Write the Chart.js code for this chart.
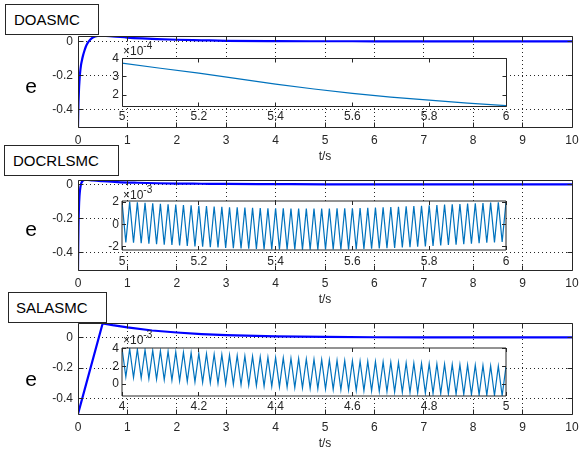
<!DOCTYPE html>
<html><head><meta charset="utf-8">
<script src="https://cdn.jsdelivr.net/npm/chart.js@4.4.0/dist/chart.umd.min.js"></script>
<style>
html,body{margin:0;padding:0;background:#fff;}
body{width:581px;height:459px;position:relative;overflow:hidden;font-family:"Liberation Sans",Arial,Helvetica,sans-serif;color:#262626;}
canvas{position:absolute;}
.tbox{position:absolute;border:1px solid #262626;background:#fff;font-size:15px;line-height:29px;box-sizing:border-box;height:31px;color:#000;z-index:5;}
.ylab{position:absolute;font-size:21px;line-height:21px;width:30px;text-align:center;left:16px;color:#000;z-index:5;}
.expo{position:absolute;font-size:12px;line-height:12px;left:123px;z-index:6;white-space:nowrap;}
.expo span{font-size:10px;position:relative;top:-6px;}
</style></head><body>
<canvas id="m1" width="581" height="137" style="left:0;top:28px"></canvas>
<canvas id="m2" width="581" height="136" style="left:0;top:172px"></canvas>
<canvas id="m3" width="581" height="137" style="left:0;top:315px"></canvas>
<canvas id="i1" width="420" height="85" style="left:100px;top:40px"></canvas>
<canvas id="i2" width="420" height="86" style="left:100px;top:183px"></canvas>
<canvas id="i3" width="420" height="85" style="left:100px;top:330px"></canvas>
<div class="tbox" style="left:5px;top:4px;width:94px;padding-left:8px">DOASMC</div>
<div class="tbox" style="left:4px;top:145px;width:115px;padding-left:8px">DOCRLSMC</div>
<div class="tbox" style="left:8px;top:292px;width:99px;padding-left:7px">SALASMC</div>
<div class="ylab" style="top:75px">e</div>
<div class="ylab" style="top:218px">e</div>
<div class="ylab" style="top:368px">e</div>
<div class="expo" style="top:45px">×10<span>-4</span></div>
<div class="expo" style="top:189px">×10<span>-3</span></div>
<div class="expo" style="top:334px">×10<span>-3</span></div>
<script>
// ---------- main axes ----------
const mainXTicks = [0,1,2,3,4,5,6,7,8,9,10];
const mainXTickLabels = ['0','1','2','3','4','5','6','7','8','9','10'];
const mainYTicks = [-0.4,-0.2,0];
const mainYTickLabels = ['-0.4','-0.2','0'];

// DOASMC error
const doasmcT = [0,0.005,0.01,0.02,0.03,0.04,0.06,0.08,0.1,0.13,0.16,0.2,0.25,0.3,0.4,0.5,0.7,1.0,1.3,1.6,2.0,2.5,3.0,4.0,5.0,6.0,8.0,10];
const doasmcE = [-0.5,-0.42,-0.36,-0.28,-0.23,-0.19,-0.14,-0.11,-0.085,-0.055,-0.03,-0.008,0.01,0.022,0.031,0.032,0.029,0.022,0.017,0.013,0.009,0.006,0.003,0.001,0.0004,0.0002,0.0001,0];

// DOCRLSMC error
const docrlT = [0,0.005,0.01,0.02,0.03,0.04,0.06,0.08,0.1,0.13,0.16,0.2,0.3,0.5,0.8,1.2,1.6,2.0,2.5,3.0,4.0,5.0,6.0,8.0,10];
const docrlE = [-0.5,-0.36,-0.25,-0.13,-0.07,-0.035,0.0,0.014,0.021,0.025,0.026,0.025,0.022,0.018,0.013,0.009,0.006,0.004,0.003,0.002,0.001,0,0,0,0];

// SALASMC error
const salaT = [0,0.5,0.7,1.0,1.5,2.0,2.5,3.0,4.0,5.0,6.0,7.0,8.0,10];
const salaE = [-0.5,0.092,0.08,0.065,0.045,0.032,0.022,0.015,0.007,0.003,0.001,0,0,0];

// ---------- insets ----------
// inset 1 (x 1e-4)
const inset1T = [5.0,5.1,5.2,5.3,5.4,5.5,5.6,5.7,5.8,5.9,6.0];
const inset1E = [3.75,3.47,3.20,2.90,2.60,2.33,2.09,1.89,1.72,1.56,1.42];
const inset1XTicks = [5,5.2,5.4,5.6,5.8,6];
const inset1XLabels = ['5','5.2','5.4','5.6','5.8','6'];
const inset1YTicks = [2,3,4];
const inset1YLabels = ['2','3','4'];

// inset 2 (x 1e-3), samples every 0.01 s alternating peak / trough
const inset2Start = 5.0, inset2Step = 0.01;
const inset2Peaks = [2.05,2.02,1.98,1.94,1.90,1.85,1.81,1.77,1.74,1.70,1.67,1.64,1.60,1.57,1.54,1.52,1.50,1.48,1.46,1.45,1.44,1.43,1.42,1.42,1.41,1.41,1.41,1.42,1.43,1.44,1.45,1.47,1.48,1.50,1.53,1.55,1.58,1.61,1.64,1.67,1.71,1.74,1.77,1.80,1.83,1.86,1.89,1.92,1.95,1.98,2.01];
const inset2Troughs = [-1.64,-1.68,-1.72,-1.76,-1.80,-1.84,-1.88,-1.92,-1.96,-2.00,-2.04,-2.08,-2.11,-2.14,-2.17,-2.20,-2.22,-2.24,-2.26,-2.27,-2.28,-2.29,-2.29,-2.30,-2.30,-2.30,-2.29,-2.29,-2.28,-2.27,-2.26,-2.24,-2.22,-2.20,-2.17,-2.14,-2.11,-2.08,-2.04,-2.00,-1.96,-1.92,-1.88,-1.84,-1.80,-1.76,-1.72,-1.68,-1.64,-1.60];
const inset2XTicks = [5,5.2,5.4,5.6,5.8,6];
const inset2XLabels = ['5','5.2','5.4','5.6','5.8','6'];
const inset2YTicks = [-2,0,2];
const inset2YLabels = ['-2','0','2'];

// inset 3 (x 1e-3)
const inset3Start = 4.0, inset3Step = 0.01;
const inset3Peaks = [4.05,3.99,3.93,3.87,3.81,3.75,3.70,3.64,3.59,3.53,3.48,3.43,3.38,3.33,3.28,3.23,3.18,3.13,3.09,3.04,3.00,2.96,2.92,2.88,2.84,2.80,2.76,2.73,2.69,2.66,2.62,2.59,2.56,2.53,2.50,2.47,2.44,2.41,2.38,2.35,2.32,2.29,2.26,2.23,2.20,2.17,2.14,2.11,2.07,2.04,2.01];
const inset3Troughs = [0.82,0.75,0.68,0.62,0.55,0.49,0.43,0.37,0.31,0.25,0.19,0.14,0.08,0.03,-0.02,-0.07,-0.12,-0.17,-0.22,-0.26,-0.31,-0.35,-0.39,-0.43,-0.47,-0.51,-0.55,-0.59,-0.63,-0.66,-0.70,-0.74,-0.77,-0.81,-0.84,-0.88,-0.91,-0.94,-0.97,-1.01,-1.04,-1.07,-1.10,-1.13,-1.16,-1.19,-1.22,-1.25,-1.28,-1.31];
const inset3XTicks = [4,4.2,4.4,4.6,4.8,5];
const inset3XLabels = ['4','4.2','4.4','4.6','4.8','5'];
const inset3YTicks = [0,2,4];
const inset3YLabels = ['0','2','4'];

// ---------- helpers ----------
const FONT = '"Liberation Sans", Arial, Helvetica, sans-serif';
const TXT = '#262626';

function xy(ts, vs){ return ts.map((t,i)=>({x:t,y:vs[i]})); }
function zigzag(start, step, peaks, troughs){
  const pts = [];
  const n = peaks.length + troughs.length;
  for (let i=0;i<n;i++){
    const t = +(start + i*step).toFixed(3);
    pts.push({x:t, y: i%2===0 ? peaks[i/2] : troughs[(i-1)/2]});
  }
  return pts;
}
function fixTicks(vals){ return s => { s.ticks = vals.map(v=>({value:v})); }; }
function fitX(h){ return s => { s.height=h; s.paddingLeft=0; s.paddingRight=0; s.paddingTop=0; s.paddingBottom=0; }; }
function fitY(w){ return s => { s.width=w; s.paddingLeft=0; s.paddingRight=0; s.paddingTop=0; s.paddingBottom=0; }; }

const matlabAxes = {
  id:'matlabAxes',
  beforeDraw(chart, args, o){
    if(!o.fill) return;
    const a=chart.chartArea, c=chart.ctx;
    c.save(); c.fillStyle=o.fill; c.fillRect(a.left,a.top,a.right-a.left,a.bottom-a.top); c.restore();
  },
  beforeDatasetsDraw(chart, args, o){
    if(!o.grid) return;
    const c=chart.ctx, a=chart.chartArea, x=chart.scales.x, y=chart.scales.y;
    c.save(); c.strokeStyle='#262626'; c.lineWidth=1; c.setLineDash([1,3]);
    c.beginPath();
    x.ticks.forEach(t=>{const p=Math.floor(x.getPixelForValue(t.value))+0.5; if(p<a.left+2||p>a.right-2) return; c.moveTo(p,a.top); c.lineTo(p,a.bottom);});
    y.ticks.forEach(t=>{const p=Math.floor(y.getPixelForValue(t.value))+0.5; if(p<a.top+2||p>a.bottom-2) return; c.moveTo(a.left,p); c.lineTo(a.right,p);});
    c.stroke(); c.restore();
  },
  afterDatasetsDraw(chart, args, o){
    const c=chart.ctx, a=chart.chartArea, x=chart.scales.x, y=chart.scales.y;
    const off = o.half ? 0.5 : 0;
    const L = Math.floor(a.left)+off, R = Math.floor(a.right)+off, T = Math.floor(a.top)+off, B = Math.floor(a.bottom)+off;
    c.save(); c.strokeStyle=o.box; c.lineWidth=1; c.setLineDash([]);
    c.beginPath();
    c.rect(L, T, R-L, B-T);
    const k = o.tickLen;
    x.ticks.forEach(t=>{const p=Math.floor(x.getPixelForValue(t.value))+0.5; c.moveTo(p,B); c.lineTo(p,B-k); c.moveTo(p,T); c.lineTo(p,T+k);});
    y.ticks.forEach(t=>{const p=Math.floor(y.getPixelForValue(t.value))+0.5; c.moveTo(L,p); c.lineTo(L+k,p); c.moveTo(R,p); c.lineTo(R-k,p);});
    c.stroke(); c.restore();
  }
};

function mainChart(id, ts, es, ymin, ymax, smooth){
  return new Chart(document.getElementById(id), {
    type:'line',
    data:{datasets:[{data:xy(ts,es), borderColor:'#0000FF', borderWidth:2.2, pointRadius:0, fill:false, tension:0,
      cubicInterpolationMode: smooth ? 'monotone' : 'default'}]},
    options:{
      responsive:false, animation:false, devicePixelRatio:1,
      layout:{padding:{left:0,right:9,top:8,bottom:0}},
      plugins:{legend:{display:false}, tooltip:{enabled:false},
        matlabAxes:{grid:true, tickLen:5, box:'#262626', half:true}},
      scales:{
        x:{type:'linear', min:0, max:10, afterBuildTicks:fixTicks(mainXTicks), afterFit:fitX(38),
          grid:{display:false, drawTicks:false}, border:{display:false},
          ticks:{padding:6, color:TXT, font:{family:FONT,size:12}, maxRotation:0, autoSkip:false,
            callback:(v,i)=>mainXTickLabels[i]},
          title:{display:true, text:'t/s', color:TXT, font:{family:FONT,size:12}, padding:{top:0,bottom:1}}},
        y:{type:'linear', min:ymin, max:ymax, afterBuildTicks:fixTicks(mainYTicks), afterFit:fitY(78),
          grid:{display:false, drawTicks:false}, border:{display:false},
          ticks:{padding:5, color:TXT, font:{family:FONT,size:12}, autoSkip:false,
            callback:(v,i)=>mainYTickLabels[i]}}
      }
    },
    plugins:[matlabAxes]
  });
}

function insetChart(id, pts, xmin, xmax, ymin, ymax, xt, xl, yt, yl, xpad, half){
  return new Chart(document.getElementById(id), {
    type:'line',
    data:{datasets:[{data:pts, borderColor:'#0072BD', borderWidth:1.2, pointRadius:0, fill:false, tension:0}]},
    options:{
      responsive:false, animation:false, devicePixelRatio:1,
      layout:{padding:{left:0,right:14,top:18,bottom:0}},
      plugins:{legend:{display:false}, tooltip:{enabled:false},
        matlabAxes:{grid:false, fill:'#ffffff', tickLen:4, box:'#262626', half:half}},
      scales:{
        x:{type:'linear', min:xmin, max:xmax, afterBuildTicks:fixTicks(xt), afterFit:fitX(19),
          grid:{display:false, drawTicks:false}, border:{display:false},
          ticks:{padding:xpad, color:TXT, font:{family:FONT,size:12}, maxRotation:0, autoSkip:false,
            callback:(v,i)=>xl[i]}},
        y:{type:'linear', min:ymin, max:ymax, afterBuildTicks:fixTicks(yt), afterFit:fitY(22),
          grid:{display:false, drawTicks:false}, border:{display:false},
          ticks:{padding:3, color:TXT, font:{family:FONT,size:12}, autoSkip:false,
            callback:(v,i)=>yl[i]}}
      }
    },
    plugins:[matlabAxes]
  });
}

mainChart('m1', doasmcT, doasmcE, -0.5, 0.031, true);
mainChart('m2', docrlT, docrlE, -0.5, 0.025, true);
mainChart('m3', salaT, salaE, -0.5, 0.094, false);

insetChart('i1', xy(inset1T, inset1E), 5, 6, 1.4, 4.03, inset1XTicks, inset1XLabels, inset1YTicks, inset1YLabels, 3, true);
insetChart('i2', zigzag(inset2Start, inset2Step, inset2Peaks, inset2Troughs), 5, 6, -2.33, 2.1, inset2XTicks, inset2XLabels, inset2YTicks, inset2YLabels, 4, false);
insetChart('i3', zigzag(inset3Start, inset3Step, inset3Peaks, inset3Troughs), 4, 5, -1.34, 4.08, inset3XTicks, inset3XLabels, inset3YTicks, inset3YLabels, 3, false);
</script>
</body></html>
